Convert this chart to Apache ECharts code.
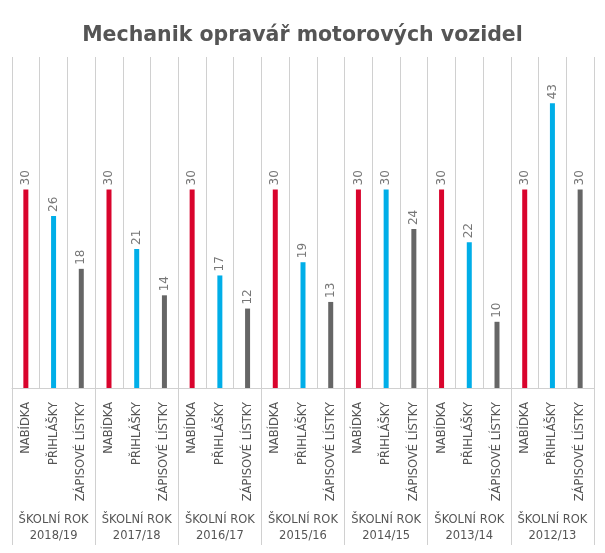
<!DOCTYPE html>
<html><head><meta charset="utf-8">
<script src="https://cdn.jsdelivr.net/npm/echarts@6/dist/echarts.min.js"></script>
<style>html,body{margin:0;padding:0;background:#fff}#c{width:605px;height:553px}</style>
</head><body><div id="c"></div>
<script>
const years = ['2018/19','2017/18','2016/17','2015/16','2014/15','2013/14','2012/13'];
const kinds = ['NABÍDKA','PŘIHLÁŠKY','ZÁPISOVÉ LÍSTKY'];
const nabidka = [30,30,30,30,30,30,30];
const prihlasky = [26,21,17,19,30,22,43];
const zapisove = [18,14,12,13,24,10,30];
const colors = ['#d9042d','#00aee8','#666666'];

const cats = [], vals = [];
years.forEach((y,i)=>{
  [nabidka[i],prihlasky[i],zapisove[i]].forEach((v,k)=>{
    cats.push(kinds[k]);
    vals.push({value:v,itemStyle:{color:colors[k]}});
  });
});

const chart = echarts.init(document.getElementById('c'));
chart.setOption({
  animation:false,
  title:{text:'Mechanik opravář motorových vozidel',left:'center',top:20,
    textStyle:{fontFamily:'DejaVu Sans',fontWeight:'bold',fontSize:20.5,color:'#555'}},
  grid:{left:12,right:11,top:57,bottom:165,containLabel:false},
  xAxis:[{
    type:'category',data:cats,position:'bottom',
    axisLine:{lineStyle:{color:'#d0d0d0'}},
    axisTick:{show:false},
    splitLine:{show:true,interval:0,lineStyle:{color:'#d0d0d0',width:1}},
    axisLabel:{interval:0,rotate:90,margin:14,fontFamily:'DejaVu Sans',fontSize:11.5,color:'#555'}
  },{
    type:'category',data:years,position:'bottom',
    axisLine:{show:false},
    axisTick:{show:true,interval:0,length:157,lineStyle:{color:'#d0d0d0'}},
    axisLabel:{interval:0,margin:124,fontFamily:'DejaVu Sans',fontSize:11.5,color:'#555',lineHeight:16,
      align:'center',formatter:v=>'{a|ŠKOLNÍ ROK}\n{a|'+v+'}',
      rich:{a:{align:'center',fontFamily:'DejaVu Sans',fontSize:11.5,color:'#555',lineHeight:16}}}
  }],
  yAxis:{type:'value',min:0,max:50,show:false,splitLine:{show:false}},
  series:[{
    type:'bar',data:vals,barWidth:5,xAxisIndex:0,
    label:{show:true,position:'top',rotate:90,align:'left',verticalAlign:'middle',distance:4,
      fontFamily:'DejaVu Sans',fontSize:12,color:'#777'}
  }]
});
</script></body></html>
